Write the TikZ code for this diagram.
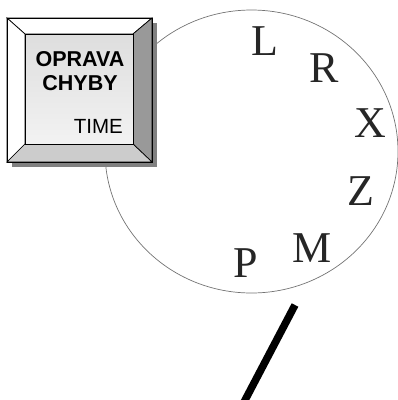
\documentclass[tikz,border=0pt]{standalone}
\usepackage{fontspec}
\usetikzlibrary{shapes.geometric}
\setmainfont{Liberation Serif}
\newfontfamily\arialf{Liberation Sans}
\begin{document}
\begin{tikzpicture}[x=1pt,y=-1pt,
  bevel/.style={draw=black,line width=0.7pt,line join=miter},
  keytxt/.style={inner sep=0pt,font=\arialf\fontsize{20.5}{22}\selectfont},
  keybold/.style={inner sep=0pt,anchor=base,font=\arialf\bfseries\fontsize{21.5}{23}\selectfont},
  dial/.style={inner sep=0pt,anchor=base,text=black!85,font=\fontsize{44}{46}\selectfont}]
\useasboundingbox (0,0) rectangle (398,400);
% dial
\node[draw=black!55,line width=0.7pt,ellipse,minimum width=293pt,minimum height=283pt,inner sep=0pt] (dialc) at (251.5,151.5) {};
\node[dial] (L) at (265,55) {L};
\node[dial] (R) at (324,82) {R};
\node[dial] (X) at (370,137) {X};
\node[dial] (Z) at (361,205) {Z};
\node[dial] (M) at (312,262) {M};
\node[dial] (P) at (246,277) {P};
% key
\coordinate (o1) at (7,18); \coordinate (o2) at (152,18);
\coordinate (o3) at (152,162); \coordinate (o4) at (7,162);
\coordinate (i1) at (25,34); \coordinate (i2) at (133,34);
\coordinate (i3) at (133,144); \coordinate (i4) at (25,144);
\fill[black!50] (12,162) rectangle (157,167);
\fill[black!50] (152,23) rectangle (157,167);
\filldraw[bevel,fill=white] (o1) -- (o2) -- (i2) -- (i1) -- cycle;
\filldraw[bevel,fill=white] (o1) -- (i1) -- (i4) -- (o4) -- cycle;
\filldraw[bevel,fill=black!40] (o2) -- (o3) -- (i3) -- (i2) -- cycle;
\filldraw[bevel,fill=black!20] (o4) -- (i4) -- (i3) -- (o3) -- cycle;
\shade[top color=black!13,bottom color=black!5] (i1) rectangle (i3);
\draw[bevel] (i1) rectangle (i3);
\draw[bevel] (o1) rectangle (o3);
\node[keybold] (t1) at (80,66.5) {OPRAVA};
\node[keybold] (t2) at (80,90.5) {CHYBY};
\node[keytxt,anchor=base east] (t3) at (123,133) {TIME};
% pointer
\coordinate (p1) at (295,305);
\coordinate (p2) at (243,404);
\draw[line width=7.5pt,black] (p1) -- (p2);
\end{tikzpicture}
\end{document}
